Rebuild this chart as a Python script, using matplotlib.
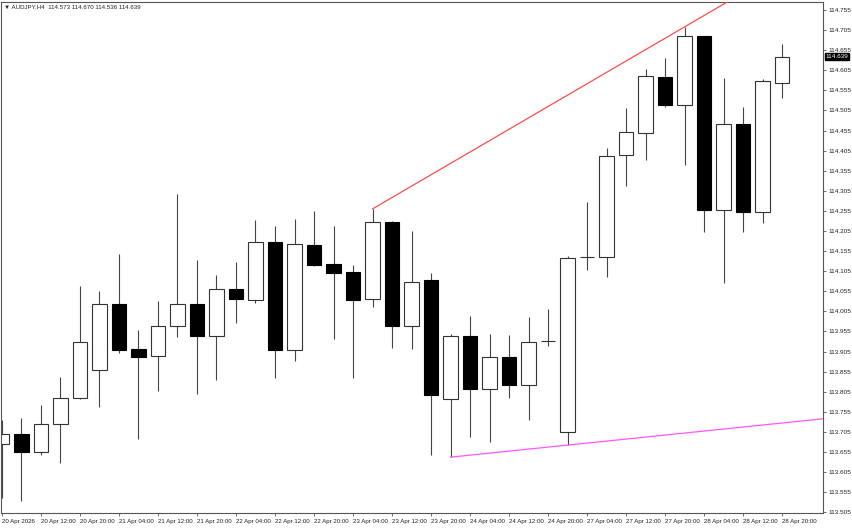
import numpy as np
import matplotlib
matplotlib.use('Agg')
import matplotlib.pyplot as plt

# -------------------------------------- #
# AUDJPY H4 candles, 20 Apr 04:00 .. 28 Apr 20:00
# -------------------------------------- #
opens = [113.674, 113.699, 113.655, 113.724, 113.789, 113.859, 114.023, 113.911, 113.894, 113.968,
         114.023, 113.943, 114.060, 114.033, 114.177, 113.909, 114.170, 114.123, 114.103, 114.035,
         114.227, 113.968, 114.083, 113.786, 113.943, 113.811, 113.891, 113.821, 113.931, 113.704,
         114.140, 114.140, 114.394, 114.449, 114.588, 114.519, 114.690, 114.257, 114.471, 114.252,
         114.573]
highs = [113.734, 113.739, 113.772, 113.841, 114.068, 114.055, 114.148, 113.958, 114.031, 114.297,
         114.133, 114.095, 114.128, 114.232, 114.217, 114.235, 114.255, 114.217, 114.120, 114.260,
         114.230, 114.205, 114.100, 113.948, 113.993, 113.948, 113.946, 113.991, 114.011, 114.143,
         114.277, 114.411, 114.511, 114.608, 114.636, 114.713, 114.690, 114.586, 114.514, 114.583,
         114.670]
lows = [113.540, 113.533, 113.647, 113.627, 113.786, 113.767, 113.901, 113.687, 113.806, 113.941,
        113.799, 113.834, 113.976, 114.025, 113.839, 113.881, 114.118, 113.936, 113.839, 114.016,
        113.913, 113.911, 113.647, 113.642, 113.692, 113.679, 113.789, 113.734, 113.918, 113.672,
        114.108, 114.090, 114.317, 114.382, 114.514, 114.369, 114.202, 114.075, 114.202, 114.225,
        114.536]
closes = [113.699, 113.655, 113.724, 113.789, 113.928, 114.023, 113.909, 113.891, 113.968, 114.023,
          113.943, 114.060, 114.035, 114.177, 113.909, 114.172, 114.120, 114.100, 114.033, 114.227,
          113.968, 114.078, 113.796, 113.943, 113.811, 113.891, 113.821, 113.928, 113.931, 114.138,
          114.140, 114.392, 114.451, 114.591, 114.519, 114.690, 114.257, 114.471, 114.252, 114.578,
          114.639]

time_labels = ['20 Apr 2026', '20 Apr 12:00', '20 Apr 20:00', '21 Apr 04:00', '21 Apr 12:00',
               '21 Apr 20:00', '22 Apr 04:00', '22 Apr 12:00', '22 Apr 20:00', '23 Apr 04:00',
               '23 Apr 12:00', '23 Apr 20:00', '24 Apr 04:00', '24 Apr 12:00', '24 Apr 20:00',
               '27 Apr 04:00', '27 Apr 12:00', '27 Apr 20:00', '28 Apr 04:00', '28 Apr 12:00',
               '28 Apr 20:00']
price_ticks = [113.505, 113.555, 113.605, 113.655, 113.705, 113.755, 113.805, 113.855, 113.905,
               113.955, 114.005, 114.055, 114.105, 114.155, 114.205, 114.255, 114.305, 114.355,
               114.405, 114.455, 114.505, 114.555, 114.605, 114.655, 114.705, 114.755]

# trend line anchors (bar index, price)
red_bars = [19, 35]
red_prices = [114.260, 114.713]
pink_bars = [23, 29]
pink_prices = [113.642, 113.672]

title = '\u25bc AUDJPY,H4  114.573 114.670 114.536 114.639'

# -------------------------------------- #
# drawing
# -------------------------------------- #
plt.rcParams['font.family'] = ['Liberation Sans', 'DejaVu Sans']
fig = plt.figure(figsize=(8.52, 5.28), dpi=100)
ax = fig.add_axes([1 / 852, 15 / 528, 822 / 852, 511 / 528])

x = np.arange(len(opens))
o = np.array(opens)
c = np.array(closes)
xmin, xmax = -0.05, 42.1
ax.set_xlim(xmin, xmax)
ax.set_ylim(113.503, 114.775)

ax.vlines(x, lows, highs, color='#444444', linewidth=0.8, zorder=1)
up = c >= o
ax.bar(x[up], c[up] - o[up], bottom=o[up], width=0.74, color='white',
       edgecolor='#333333', linewidth=0.8, zorder=2)
ax.bar(x[~up], c[~up] - o[~up], bottom=o[~up], width=0.74, color='black',
       edgecolor='black', linewidth=0.8, zorder=2)

# trend rays
for bars, prices, col in [(red_bars, red_prices, '#ff4d4d'), (pink_bars, pink_prices, '#ff55ff')]:
    slope = (prices[1] - prices[0]) / (bars[1] - bars[0])
    xs = [bars[0], xmax]
    ys = [prices[0], prices[0] + slope * (xmax - bars[0])]
    ax.plot(xs, ys, color=col, linewidth=0.9, zorder=3, clip_on=True)

# axes styling
for s in ax.spines.values():
    s.set_color('#555555')
    s.set_linewidth(0.8)
ax.yaxis.tick_right()
ax.set_yticks(price_ticks)
ax.set_yticklabels(['%.3f' % p for p in price_ticks])
ax.tick_params(axis='y', direction='out', length=2.5, width=0.6, colors='#555555',
               labelsize=4.6, labelcolor='#222222', pad=1.5)
ax.set_xticks(x[::2])
ax.set_xticklabels(time_labels, ha='left')
ax.tick_params(axis='x', direction='out', length=2.5, width=0.6, colors='#555555',
               labelsize=4.4, labelcolor='#222222', pad=1.5)

# current price box
ax.annotate('%.3f' % closes[-1], xy=(1.0, closes[-1]), xycoords=('axes fraction', 'data'),
            xytext=(2, 0), textcoords='offset points', ha='left', va='center',
            fontsize=4.6, color='white',
            bbox=dict(boxstyle='square,pad=0.15', fc='black', ec='black'))

fig.text(4 / 852, 1 - 7 / 528, title, fontsize=4.4, ha='left', va='center',
         color='#222222')

fig.savefig('out.png', dpi=100)
